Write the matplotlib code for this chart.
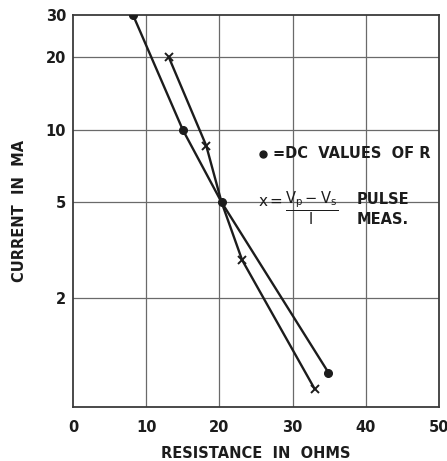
import matplotlib
matplotlib.use("Agg")
import matplotlib.pyplot as plt
from matplotlib.ticker import FixedLocator, FixedFormatter, NullLocator

# DC values of R (dots)
dc_ohms = [8.2, 15.0, 20.3, 34.9]
dc_ma = [30.0, 10.0, 5.0, 0.98]

# Pulse measurements (crosses)
pulse_ohms = [13.1, 18.2, 20.3, 23.1, 33.0]
pulse_ma = [20.0, 8.6, 5.0, 2.88, 0.84]
pulse_marked = [0, 1, 3, 4]

x_ticks = [0, 10, 20, 30, 40, 50]
y_ticks = [2, 5, 10, 20, 30]
y_tick_labels = ["2", "5", "10", "20", "30"]

ink = "#1c1c1c"
grid_col = "#6a6a6a"

plt.rcParams["font.family"] = ["DejaVu Sans"]

fig = plt.figure(figsize=(4.47, 4.61), dpi=100)
ax = fig.add_axes([0.1633, 0.1171, 0.8187, 0.8504])

ax.set_yscale("log")
ax.set_xlim(0, 50)
ax.set_ylim(0.705, 30)

ax.yaxis.set_major_locator(FixedLocator(y_ticks))
ax.yaxis.set_major_formatter(FixedFormatter(y_tick_labels))
ax.yaxis.set_minor_locator(NullLocator())
ax.xaxis.set_major_locator(FixedLocator(x_ticks))

# Grid: horizontal at the labelled currents, vertical every 10 ohms
for yv in [2, 5, 10, 20]:
    ax.axhline(yv, color=grid_col, lw=0.9, zorder=1)
for xv in [10, 20, 30, 40]:
    ax.axvline(xv, color=grid_col, lw=0.9, zorder=1)

for s in ax.spines.values():
    s.set_color("#3a3a3a")
    s.set_linewidth(1.3)

ax.tick_params(axis="both", length=0, labelsize=10.5, colors=ink)
ax.tick_params(axis="y", pad=5)
ax.tick_params(axis="x", pad=9)
for lab in ax.get_xticklabels() + ax.get_yticklabels():
    lab.set_fontweight("bold")

ax.plot(dc_ohms, dc_ma, color=ink, lw=1.7, marker="o", ms=5.5, zorder=3)
ax.plot(pulse_ohms, pulse_ma, color=ink, lw=1.7, zorder=3)
ax.plot([pulse_ohms[i] for i in pulse_marked], [pulse_ma[i] for i in pulse_marked],
        ls="none", marker="x", ms=6, mew=1.4, color=ink, zorder=3)

ax.set_xlabel("RESISTANCE  IN  OHMS", fontsize=10.5, fontweight="bold", color=ink, labelpad=8)
ax.set_ylabel("CURRENT  IN  MA", fontsize=10.5, fontweight="bold", color=ink, labelpad=13)

# Key
ax.plot([25.9], [7.95], marker="o", ms=5, color=ink, ls="none", zorder=4)
ax.text(27.3, 7.95, "=DC  VALUES  OF R", fontsize=10.5, fontweight="bold", color=ink,
        va="center", ha="left")
ax.text(25.3, 5.05, r"$\mathsf{x =}$", fontsize=11, color=ink, va="center", ha="left")
ax.text(28.9, 4.72, r"$\mathsf{\dfrac{V_p - V_s}{I}}$", fontsize=10.5, color=ink,
        va="center", ha="left")
ax.text(38.8, 5.14, "PULSE", fontsize=10.5, fontweight="bold", color=ink, va="center", ha="left")
ax.text(38.8, 4.25, "MEAS.", fontsize=10.5, fontweight="bold", color=ink, va="center", ha="left")

fig.savefig("out.png", dpi=100)
